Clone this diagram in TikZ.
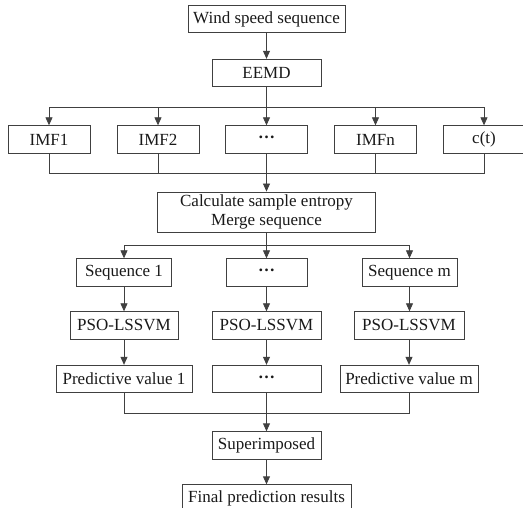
\documentclass[tikz,border=0pt]{standalone}
\usepackage{fontspec}
\setmainfont{Liberation Serif}
\usetikzlibrary{arrows.meta}
\newcommand{\dotrow}{\raisebox{0.22em}{\bfseries …}}
\tikzset{
	box/.style={draw=black!75, line width=0.5pt, minimum height=16.5pt, inner sep=1pt, font=\fontsize{10.2}{12}\selectfont, text=black!90},
	link/.style={draw=black!75, line width=0.5pt},
	arrow/.style={link, -{Triangle[length=4.8pt, width=4.2pt]}}
}

\begin{document}
\begin{tikzpicture}[x=0.6pt, y=-0.6pt]
	\useasboundingbox (0, 0) rectangle (523, 508);
	\node[box, minimum width=94.2pt] (wind) at (266.5, 19) {Wind speed sequence};
	\node[box, minimum width=65.4pt] (eemd) at (266.5, 73) {EEMD};
	\node[box, minimum width=49.2pt] (imf1) at (49, 139.5) {IMF1};
	\node[box, minimum width=49.2pt] (imf2) at (158, 139.5) {IMF2};
	\node[box, minimum width=49.2pt] (imfd) at (266.5, 139.5) {\dotrow};
	\node[box, minimum width=49.2pt] (imfn) at (375.5, 139.5) {IMFn};
	\node[box, minimum width=49.2pt] (ct) at (484, 139.5) {c(t)};
	\node[box, minimum width=130.8pt, minimum height=24pt, align=center, font=\fontsize{10.2}{11.5}\selectfont] (calc) at (266.5, 212) {Calculate sample entropy\\Merge sequence};
	\node[box, minimum width=57pt] (seq1) at (124, 272.5) {Sequence 1};
	\node[box, minimum width=48.6pt] (seqd) at (266.5, 272.5) {\dotrow};
	\node[box, minimum width=57pt] (seqm) at (409.5, 272.5) {Sequence m};
	\node[box, minimum width=64.8pt] (pso1) at (124, 325.5) {PSO-LSSVM};
	\node[box, minimum width=65.4pt] (psod) at (266.5, 325.5) {PSO-LSSVM};
	\node[box, minimum width=66pt] (psom) at (409, 325.5) {PSO-LSSVM};
	\node[box, minimum width=81.6pt] (pv1) at (124, 379) {Predictive value 1};
	\node[box, minimum width=65.4pt] (pvd) at (266.5, 379) {\dotrow};
	\node[box, minimum width=82.8pt] (pvm) at (409, 379) {Predictive value m};
	\node[box, minimum width=65.4pt] (sup) at (266.5, 445.5) {Superimposed};
	\node[box, minimum width=101.4pt] (final) at (266.5, 498.5) {Final prediction results};
	% bus lines
	\coordinate (split1) at (266.5, 107);
	\coordinate (join1) at (266.5, 173);
	\coordinate (split2) at (266.5, 245);
	\coordinate (join2) at (266.5, 413);
	\draw[arrow] (wind) -- (eemd);
	\foreach \n in {imf1, imf2, imfd, imfn, ct}
		\draw[arrow] (eemd.south) -- (split1) -| (\n.north);
	\foreach \n in {imf1, imf2, imfd, imfn, ct}
		\draw[link] (\n.south) |- (join1);
	\draw[arrow] (join1) -- (calc.north);
	\foreach \n in {seq1, seqd, seqm}
		\draw[arrow] (calc.south) -- (split2) -| (\n.north);
	\draw[arrow] (seq1) -- (pso1);
	\draw[arrow] (seqd) -- (psod);
	\draw[arrow] (seqm) -- (psom.north -| seqm.south);
	\draw[arrow] (pso1) -- (pv1);
	\draw[arrow] (psod) -- (pvd);
	\draw[arrow] (psom) -- (pvm);
	\foreach \n in {pv1, pvd, pvm}
		\draw[link] (\n.south) |- (join2);
	\draw[arrow] (join2) -- (sup.north);
	\draw[arrow] (sup) -- (final);
\end{tikzpicture}
\end{document}
